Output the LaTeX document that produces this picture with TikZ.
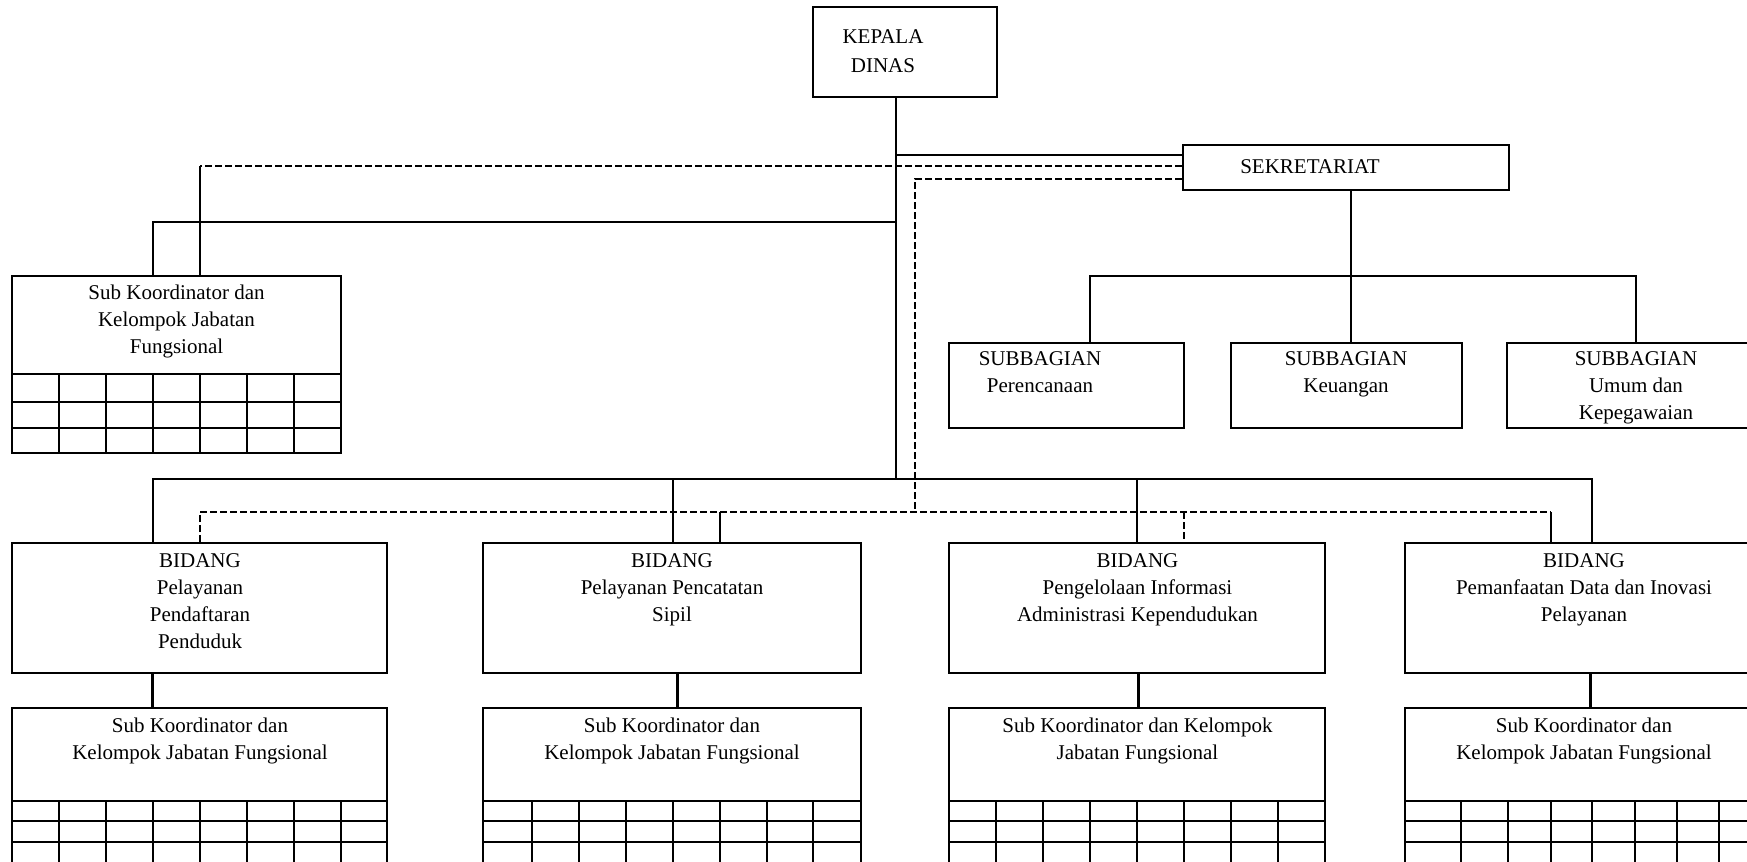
\documentclass[tikz,border=0pt]{standalone}
\usepackage{fontspec}
\setmainfont{Liberation Serif}
\usetikzlibrary{fit}
\tikzset{
  box/.style={draw, line width=1pt, rectangle, inner sep=0pt},
  conn/.style={line width=1pt},
  thickconn/.style={line width=1.5pt},
  dconn/.style={line width=1pt, dash pattern=on 3.5pt off 1.5pt},
  gridline/.style={line width=1pt},
  txt/.style={font=\fontsize{10.5pt}{13.5pt}\selectfont, align=center, inner sep=0pt, anchor=north},
}
\begin{document}
\begin{tikzpicture}[x=0.5pt, y=-0.5pt]
\useasboundingbox (0,0) rectangle (1747,862);
\fill[white] (0,0) rectangle (1747,862);

% boxes
\node[box, fit={(813,7) (997,97)}] (kepala) {};
\node[box, fit={(1183,145) (1509,190)}] (sek) {};
\node[box, fit={(949,343) (1184,428)}] (sb1) {};
\node[box, fit={(1231,343) (1462,428)}] (sb2) {};
\node[box, fit={(1507,343) (1765,428)}] (sb3) {};
\node[box, fit={(12,276) (341,453)}] (skt) {};
\node[box, fit={(12,543) (387,673)}] (bd1) {};
\node[box, fit={(483,543) (861,673)}] (bd2) {};
\node[box, fit={(949,543) (1325,673)}] (bd3) {};
\node[box, fit={(1405,543) (1765,673)}] (bd4) {};
\node[box, fit={(12,708) (387,875)}] (sk1) {};
\node[box, fit={(483,708) (861,875)}] (sk2) {};
\node[box, fit={(949,708) (1325,875)}] (sk3) {};
\node[box, fit={(1405,708) (1765,875)}] (sk4) {};

% texts
\node[txt, font=\fontsize{10.5pt}{14.5pt}\selectfont] (tkep) at (883,29) {KEPALA\\DINAS};
\node[txt, anchor=center] (tsek) at (1310,167) {SEKRETARIAT};
\node[txt] (tsb1) at (1040,351) {SUBBAGIAN\\Perencanaan};
\node[txt] (tsb2) at (1346,351) {SUBBAGIAN\\Keuangan};
\node[txt] (tsb3) at (1636,351) {SUBBAGIAN\\Umum dan\\Kepegawaian};
\node[txt] (tskt) at (176.5,285) {Sub Koordinator dan\\Kelompok Jabatan\\Fungsional};
\node[txt] (tbd1) at (200,553) {BIDANG\\Pelayanan\\Pendaftaran\\Penduduk};
\node[txt] (tbd2) at (672,553) {BIDANG\\Pelayanan Pencatatan\\Sipil};
\node[txt] (tbd3) at (1137.5,553) {BIDANG\\Pengelolaan Informasi\\Administrasi Kependudukan};
\node[txt] (tbd4) at (1584,553) {BIDANG\\Pemanfaatan Data dan Inovasi\\Pelayanan};
\node[txt] (tsk1) at (200,718) {Sub Koordinator dan\\Kelompok Jabatan Fungsional};
\node[txt] (tsk2) at (672,718) {Sub Koordinator dan\\Kelompok Jabatan Fungsional};
\node[txt] (tsk3) at (1137.5,718) {Sub Koordinator dan Kelompok\\Jabatan Fungsional};
\node[txt] (tsk4) at (1584,718) {Sub Koordinator dan\\Kelompok Jabatan Fungsional};

% grids
\foreach \yy in {374,402,428} \draw[gridline] (12,\yy) -- (341,\yy);
\foreach \xx in {59,106,153,200,247,294} \draw[gridline] (\xx,374) -- (\xx,453);
\foreach \yy in {801,821,842} {
  \draw[gridline] (12,\yy) -- (387,\yy);
  \draw[gridline] (483,\yy) -- (861,\yy);
  \draw[gridline] (949,\yy) -- (1325,\yy);
  \draw[gridline] (1405,\yy) -- (1765,\yy);
}
\foreach \xx in {59,106,153,200,247,294,341,532,579,626,673,720,767,813,996,1043,1090,1137,1184,1231,1278,1461,1508,1551,1592,1635,1677,1719}
  \draw[gridline] (\xx,801) -- (\xx,875);

% junction coordinates
\coordinate (trunk) at (896,479);
\coordinate (jsek) at (896,155);
\coordinate (jleft) at (896,222);
\coordinate (dup) at (200,166);
\coordinate (dlow) at (915,179);
\coordinate (dlowb) at (915,512);
\coordinate (sbbus) at (1351,276);
\coordinate (bdbusL) at (153,479);
\coordinate (bdbusR) at (1592,479);
\coordinate (dbusL) at (200,512);
\coordinate (dbusR) at (1551,512);

% solid connectors
\draw[conn] (kepala.south -| trunk) -- (trunk);
\draw[conn] (jsek) -- (jsek -| sek.west);
\draw[conn] (jleft) -- (153,222) -- (skt.north -| 153,0);
\draw[conn] (sek.south -| sbbus) -- (sbbus);
\draw[conn] (sb1.north -| 1090,0) -- (1090,276) -- (1636,276) -- (sb3.north -| 1636,0);
\draw[conn] (sbbus) -- (sb2.north -| sbbus);
\draw[conn] (bd1.north -| bdbusL) -- (bdbusL) -- (bdbusR) -- (bd4.north -| bdbusR);
\draw[conn] (673,479) -- (bd2.north -| 673,0);
\draw[conn] (1137,479) -- (bd3.north -| 1137,0);

% dashed connectors
\draw[dconn] (sek.west |- dup) -- (dup);
\draw[conn] (dup) -- (skt.north -| dup);
\draw[dconn] (sek.west |- dlow) -- (dlow) -- (dlowb);
\draw[dconn] (bd1.north -| dbusL) -- (dbusL) -- (dbusR);
\draw[conn] (dbusR) -- (bd4.north -| dbusR);
\draw[conn] (720,512) -- (bd2.north -| 720,0);
\draw[dconn] (1184,512) -- (bd3.north -| 1184,0);

% bidang to sub koordinator
\draw[thickconn] (bd1.south -| 152,0) -- (sk1.north -| 152,0);
\draw[thickconn] (bd2.south -| 677,0) -- (sk2.north -| 677,0);
\draw[thickconn] (bd3.south -| 1138,0) -- (sk3.north -| 1138,0);
\draw[thickconn] (bd4.south -| 1590,0) -- (sk4.north -| 1590,0);
\end{tikzpicture}
\end{document}
